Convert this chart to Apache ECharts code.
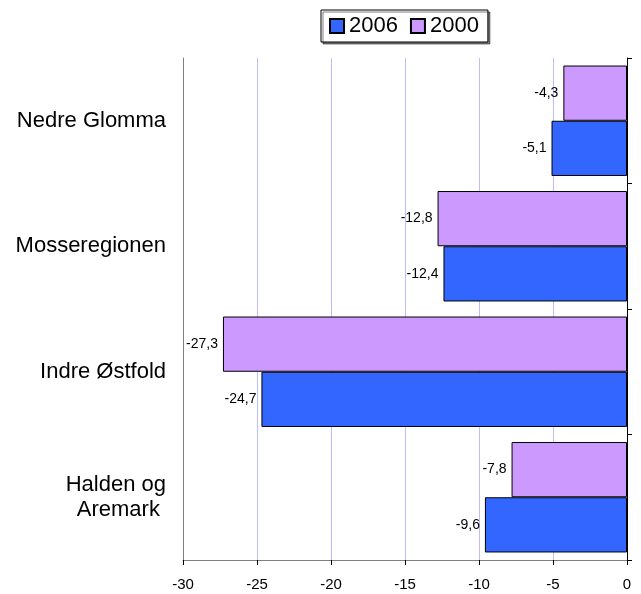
<!DOCTYPE html>
<html>
<head>
<meta charset="utf-8">
<script src="https://cdn.jsdelivr.net/npm/echarts@6/dist/echarts.min.js"></script>
<style>
  html, body { margin: 0; padding: 0; background: #fff; }
  #chart { width: 641px; height: 594px; }
</style>
</head>
<body>
<div id="chart"></div>
<script>
// bottom to top
const regions = ["Halden og\nAremark\u00a0", "Indre Østfold", "Mosseregionen", "Nedre Glomma"];
const values2006 = [-9.6, -24.7, -12.4, -5.1];
const values2000 = [-7.8, -27.3, -12.8, -4.3];

const chart = echarts.init(document.getElementById("chart"));

const fmt = (p) => String(p.value).replace(".", ",");
const valueLabel = { show: true, position: "left", distance: 5, fontSize: 14, color: "#000", formatter: fmt };

chart.setOption({
  animation: false,
  textStyle: { fontFamily: "Liberation Sans, Arial, sans-serif" },
  legend: {
    top: 10,
    left: 321,
    data: ["2006", "2000"],
    itemWidth: 14,
    itemHeight: 14,
    itemGap: 12,
    padding: [5, 9, 5, 8],
    borderColor: "#000",
    borderWidth: 1,
    shadowColor: "rgba(0,0,0,0.5)",
    shadowOffsetX: 2,
    shadowOffsetY: 2,
    backgroundColor: "#fff",
    textStyle: { fontSize: 22, color: "#000" },
    icon: "rect"
  },
  grid: { left: 183, right: 14, top: 58, bottom: 34 },
  xAxis: {
    type: "value",
    min: -30,
    max: 0,
    interval: 5,
    axisLine: { show: true, lineStyle: { color: "#808080" } },
    axisTick: { show: true, length: 5, lineStyle: { color: "#000" } },
    axisLabel: { fontSize: 15, color: "#000", margin: 17 },
    splitLine: { show: true, lineStyle: { color: "#bcbcff" } }
  },
  yAxis: [
    {
      type: "category",
      data: regions,
      position: "left",
      axisLine: { show: true, onZero: false, lineStyle: { color: "#808080" } },
      axisTick: { show: false },
      axisLabel: { fontSize: 22, color: "#000", margin: 17, lineHeight: 25 }
    },
    {
      type: "category",
      data: regions,
      position: "right",
      axisLine: { show: true, onZero: false, lineStyle: { color: "#000" } },
      axisTick: { show: true, inside: false, length: 5, lineStyle: { color: "#000" } },
      axisLabel: { show: false }
    }
  ],
  series: [
    {
      name: "2000",
      type: "bar",
      data: values2000,
      barCategoryGap: "12%",
      barGap: "0%",
      itemStyle: { color: "#cc99ff", borderColor: "#000", borderWidth: 1 },
      label: valueLabel
    },
    {
      name: "2006",
      type: "bar",
      data: values2006,
      barCategoryGap: "12%",
      barGap: "0%",
      itemStyle: { color: "#3366ff", borderColor: "#000", borderWidth: 1 },
      label: valueLabel
    }
  ]
});
</script>
</body>
</html>
